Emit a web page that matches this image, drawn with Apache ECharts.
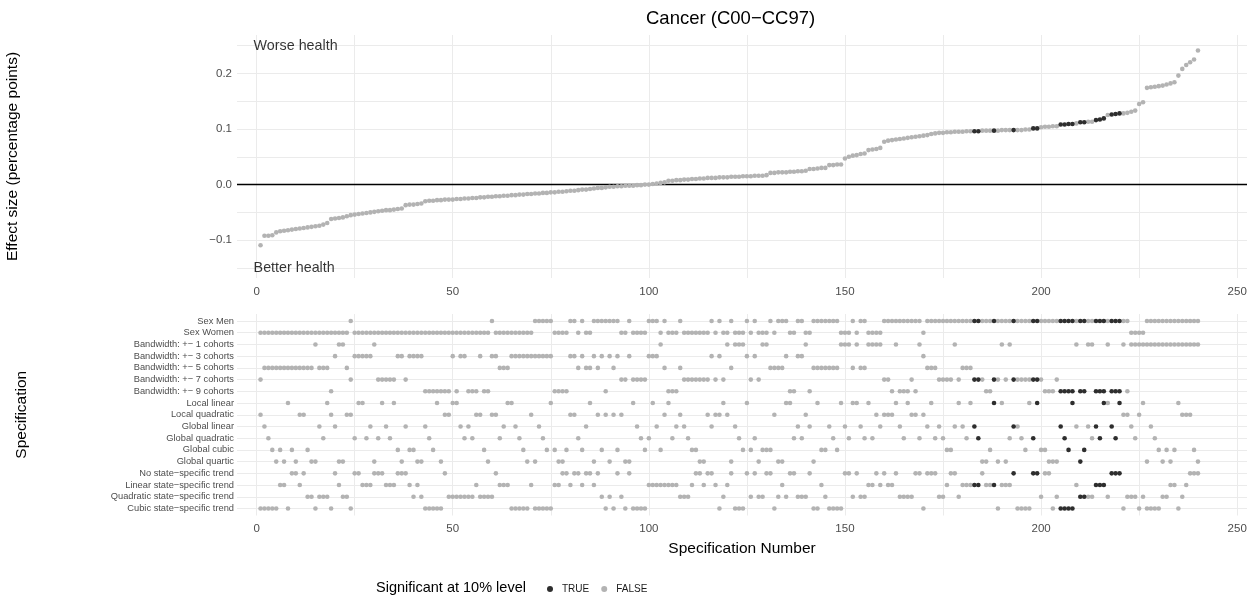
<!DOCTYPE html>
<html>
<head>
<meta charset="utf-8">
<script src="https://cdn.jsdelivr.net/npm/echarts@6/dist/echarts.min.js"></script>
<style>
  html, body { margin: 0; padding: 0; background: #ffffff; }
  #chart { width: 1256px; height: 598px; }
</style>
</head>
<body>
<div id="chart"></div>
<script>
// Specification curve: sorted effect sizes (top) and the choices behind each specification (bottom)

const rowLabels = [
  'Sex Men', 'Sex Women',
  'Bandwidth: +\u2212 1 cohorts', 'Bandwidth: +\u2212 3 cohorts', 'Bandwidth: +\u2212 5 cohorts',
  'Bandwidth: +\u2212 7 cohorts', 'Bandwidth: +\u2212 9 cohorts',
  'Local linear', 'Local quadratic', 'Global linear', 'Global quadratic', 'Global cubic', 'Global quartic',
  'No state\u2212specific trend', 'Linear state\u2212specific trend',
  'Quadratic state\u2212specific trend', 'Cubic state\u2212specific trend'
];

const xTickLabels = [0, 50, 100, 150, 200, 250];
const xGridValues = [0, 25, 50, 75, 100, 125, 150, 175, 200, 225, 250];
const effectTickLabels = [-0.1, 0, 0.1, 0.2];
const effectGridValues = [-0.15, -0.1, -0.05, 0.05, 0.1, 0.15, 0.2, 0.25];

// Effect size (percentage points) of specifications 1..240, sorted ascending
const effectSize = [
  -0.109, -0.092, -0.092, -0.091, -0.086, -0.084, -0.083, -0.082, -0.081, -0.080,
  -0.079, -0.078, -0.077, -0.076, -0.075, -0.074, -0.072, -0.069, -0.062, -0.061,
  -0.060, -0.059, -0.057, -0.055, -0.054, -0.053, -0.052, -0.051, -0.050, -0.049,
  -0.048, -0.047, -0.046, -0.046, -0.045, -0.044, -0.043, -0.037, -0.036, -0.036,
  -0.035, -0.034, -0.030, -0.029, -0.029, -0.028, -0.028, -0.027, -0.027, -0.027,
  -0.026, -0.026, -0.025, -0.025, -0.024, -0.024, -0.023, -0.023, -0.022, -0.022,
  -0.021, -0.021, -0.020, -0.020, -0.019, -0.019, -0.018, -0.018, -0.017, -0.017,
  -0.016, -0.016, -0.015, -0.015, -0.014, -0.014, -0.013, -0.013, -0.012, -0.011,
  -0.011, -0.010, -0.009, -0.009, -0.008, -0.007, -0.006, -0.006, -0.005, -0.004,
  -0.004, -0.003, -0.003, -0.002, -0.002, -0.002, -0.001, -0.001, 0.000, 0.000,
  0.001, 0.002, 0.003, 0.004, 0.007, 0.007, 0.008, 0.008, 0.009, 0.009,
  0.010, 0.010, 0.011, 0.011, 0.012, 0.012, 0.012, 0.013, 0.013, 0.013,
  0.014, 0.014, 0.014, 0.015, 0.015, 0.015, 0.016, 0.016, 0.016, 0.017,
  0.021, 0.021, 0.022, 0.022, 0.022, 0.023, 0.023, 0.024, 0.024, 0.025,
  0.028, 0.028, 0.029, 0.030, 0.030, 0.035, 0.035, 0.036, 0.036, 0.047,
  0.050, 0.052, 0.053, 0.055, 0.056, 0.062, 0.063, 0.064, 0.066, 0.077,
  0.079, 0.080, 0.081, 0.082, 0.083, 0.084, 0.085, 0.086, 0.087, 0.088,
  0.089, 0.091, 0.092, 0.093, 0.093, 0.094, 0.094, 0.095, 0.095, 0.095,
  0.096, 0.096, 0.096, 0.096, 0.097, 0.097, 0.097, 0.097, 0.097, 0.098,
  0.098, 0.098, 0.098, 0.098, 0.098, 0.099, 0.099, 0.101, 0.101, 0.103,
  0.104, 0.104, 0.105, 0.105, 0.108, 0.108, 0.109, 0.109, 0.110, 0.112,
  0.112, 0.113, 0.113, 0.116, 0.117, 0.119, 0.125, 0.126, 0.127, 0.128,
  0.128, 0.129, 0.131, 0.133, 0.145, 0.148, 0.174, 0.175, 0.176, 0.177,
  0.178, 0.180, 0.182, 0.184, 0.196, 0.208, 0.215, 0.220, 0.225, 0.241
];

// Sample: M = men, W = women
const sexBySpec = [
  'W W W W W W W W W W', 'W W W W W W W W W W', 'W W W M W W W W W W', 'W W W W W W W W W W',
  'W W W W W W W W W W', 'W W W W W W W W W M', 'W W W W W W W W W W', 'M M M M M W W W W M',
  'M W M W W M M M M M', 'M M W W M W W W W M', 'M M W M W W W M W W', 'W W W W W M W M W W',
  'M W W W M W M W W W', 'M W M M M W W M M W', 'W M M M M M M M W W', 'W M W M M W W W W M',
  'M M M M M M M M M W', 'M M M M M M M M M M', 'M M M M M M M M M M', 'M M M M M M M M M M',
  'M M M M M M M M M M', 'M M M M M M M M M M', 'M M W W W W M M M M', 'M M M M M M M M M M'
].join(' ').split(' ');

// Bandwidth in cohorts (+/-)
const bandwidthBySpec = [
  7, 5, 5, 5, 5, 5, 5, 5, 5, 5,   5, 5, 5, 5, 1, 5, 5, 5, 9, 3,
  1, 1, 5, 7, 3, 3, 3, 3, 3, 1,   7, 7, 7, 7, 7, 3, 3, 7, 3, 3,
  3, 3, 9, 9, 9, 9, 9, 9, 9, 3,   9, 3, 3, 9, 9, 9, 3, 9, 9, 3,
  3, 5, 5, 5, 3, 3, 3, 3, 3, 3,   3, 3, 3, 3, 3, 9, 9, 9, 9, 3,
  3, 5, 3, 5, 5, 3, 5, 3, 9, 3,   5, 3, 7, 7, 3, 7, 7, 7, 7, 3,
  3, 3, 1, 5, 9, 9, 9, 5, 7, 7,   7, 7, 7, 7, 7, 3, 7, 3, 7, 1,
  5, 1, 1, 1, 3, 7, 3, 7, 1, 1,   5, 5, 5, 5, 3, 9, 9, 3, 3, 1,
  9, 5, 5, 5, 5, 5, 5, 5, 1, 1,   1, 5, 1, 5, 5, 1, 1, 1, 1, 7,
  7, 9, 1, 9, 9, 9, 7, 9, 1, 3,   5, 5, 5, 7, 7, 7, 7, 1, 7, 5,
  5, 5, 7, 7, 7, 9, 9, 7, 7, 1,   7, 1, 7, 7, 7, 7, 7, 7, 7, 7,
  9, 9, 9, 7, 9, 9, 9, 9, 1, 9,   9, 1, 1, 9, 9, 9, 1, 9, 9, 9,
  1, 9, 1, 1, 1, 1, 1, 1, 1, 1,   1, 1, 1, 1, 1, 1, 1, 1, 1, 1
];

// Estimator: LL local linear, LQ local quadratic, GL/GQ/GC/G4 global linear..quartic
const methodBySpec = [
  'LQ GL GQ GC G4 GC G4 LL GC G4', 'LQ LQ GC G4 G4 GL GQ LL LQ GL',
  'G4 G4 LQ LQ GQ LL LL GQ GL G4', 'GQ LL GL GQ LL GC G4 GL GC GC',
  'G4 G4 GL GQ GC LL G4 LQ LQ LL', 'LL GL GQ GL GQ LQ LQ GC G4 LQ',
  'LQ GQ GL LL LL GL GQ GC G4 LQ', 'G4 GL GQ GC LL GC G4 G4 GC LQ',
  'LQ GQ GC GL LL G4 LQ GC LQ G4', 'LQ GC LQ G4 G4 LL GL GQ GC GQ',
  'LL GL GC LQ LL GQ GL LQ GL GQ', 'GC GC G4 G4 LQ GL LQ LQ LL LQ',
  'G4 GL GQ GC LL GC GQ G4 GC GC', 'GC LQ G4 G4 LL LL GQ GL GQ LQ',
  'GL G4 LL GC GC GL GQ GC LL GL', 'GQ LL LL GL GQ LL GQ LQ GL LQ',
  'LQ LQ LL GL GQ LL LQ LQ GQ LQ', 'GL LL GQ GL GQ GC GC GL LL GL',
  'GQ LL GL GQ G4 G4 GC LL G4 LL', 'G4 GQ GL GL GQ GC LL GQ LL GC',
  'GC G4 G4 G4 GL GQ GC LL GL G4', 'GC GL GQ GL GQ LL LL GL GQ LL',
  'LQ LQ GL GQ LQ LL G4 GL GQ GC', 'G4 GC G4 GC LL LQ LQ LQ GC G4'
].join(' ').split(' ');

// State-specific trend: N none, L linear, Q quadratic, C cubic
const trendBySpec = [
  'C C C C C L L C N N', 'L N Q Q C Q Q Q C N', 'L Q Q C N N L L L N', 'N N L L L N N N L Q',
  'L Q C C C C C N Q Q', 'Q Q Q Q Q L Q Q Q Q', 'N L L L C C C C C L', 'C C C C C L L N N L',
  'N N L N N L N Q C Q', 'C N Q C N C C C C L', 'L L L L L L L Q Q Q', 'L N N L N N L C Q L',
  'N C C C N Q N Q Q N', 'N C Q L Q N N Q Q Q', 'N C C L Q C C C C N', 'N Q N Q Q L L N L N',
  'L L N Q Q Q Q N N C', 'N N N Q Q L N N Q L', 'L L L L N L L L C L', 'L L N C C C C N N Q',
  'N N C Q C C C C L Q', 'Q Q Q L L L Q N N N', 'C Q Q Q C Q C C C C', 'Q Q L L C Q L N N N'
].join(' ').split(' ');

// Specifications significant at the 10% level
const significantSpecs = [183, 184, 188, 193, 198, 199, 205, 206, 207, 208, 210, 211, 214, 215, 216, 218, 219, 220];

const sexRow = { M: 1, W: 2 };
const bandwidthRow = { 1: 3, 3: 4, 5: 5, 7: 6, 9: 7 };
const methodRow = { LL: 8, LQ: 9, GL: 10, GQ: 11, GC: 12, G4: 13 };
const trendRow = { N: 14, L: 15, Q: 16, C: 17 };

const COLOR_TRUE = '#2E2E2E';
const COLOR_FALSE = '#B3B3B3';
const FONT = '"Liberation Sans", Arial, sans-serif';
const minus = s => String(s).replace('-', '\u2212');

const curveTrue = [], curveFalse = [], choiceTrue = [], choiceFalse = [];
effectSize.forEach((v, i) => {
  const spec = i + 1;
  const sig = significantSpecs.includes(spec);
  (sig ? curveTrue : curveFalse).push([spec, v]);
  const rows = [sexRow[sexBySpec[i]], bandwidthRow[bandwidthBySpec[i]], methodRow[methodBySpec[i]], trendRow[trendBySpec[i]]];
  rows.forEach(r => (sig ? choiceTrue : choiceFalse).push([spec, r]));
});

// Panel grid lines, kept underneath the points
function gridLines(axisIdx, xs, ys, extra) {
  const data = xs.map(v => ({ xAxis: v })).concat(ys.map(v => ({ yAxis: v })));
  return {
    type: 'scatter', xAxisIndex: axisIdx, yAxisIndex: axisIdx, data: [], silent: true, z: 1,
    markLine: {
      z: 1, silent: true, animation: false, symbol: ['none', 'none'], label: { show: false },
      lineStyle: { color: '#EBEBEB', width: 1, type: 'solid' },
      emphasis: { disabled: true },
      data: data.concat(extra || [])
    }
  };
}

const axisText = { color: '#4D4D4D', fontSize: 11.5, fontFamily: FONT };
const nameText = { color: '#000000', fontSize: 15.5, fontFamily: FONT };

const option = {
  animation: false,
  title: [
    { text: 'Cancer (C00\u2212CC97)', left: 641, top: 4,
      textStyle: { fontSize: 18.5, fontWeight: 'normal', color: '#000', fontFamily: FONT } },
    { text: 'Significant at 10% level', left: 371, top: 575,
      textStyle: { fontSize: 14.5, fontWeight: 'normal', color: '#000', fontFamily: FONT } }
  ],
  legend: {
    data: ['TRUE', 'FALSE'], left: 542, top: 579, icon: 'circle', itemWidth: 14, itemHeight: 6,
    itemGap: 12, selectedMode: false,
    textStyle: { fontSize: 10, color: '#1A1A1A', fontFamily: FONT }
  },
  grid: [
    { left: 237, right: 9, top: 35, height: 243, outerBoundsMode: 'none', containLabel: false },
    { left: 237, right: 9, top: 314, height: 201.5, outerBoundsMode: 'none', containLabel: false }
  ],
  xAxis: [
    { type: 'value', gridIndex: 0, min: -5, max: 252.5,
      axisLine: { show: false }, axisTick: { show: false }, splitLine: { show: false },
      axisLabel: Object.assign({ customValues: xTickLabels, margin: 8 }, axisText) },
    { type: 'value', gridIndex: 1, min: -5, max: 252.5,
      name: 'Specification Number', nameLocation: 'middle', nameGap: 25, nameTextStyle: nameText,
      axisLine: { show: false }, axisTick: { show: false }, splitLine: { show: false },
      axisLabel: Object.assign({ customValues: xTickLabels, margin: 7 }, axisText) }
  ],
  yAxis: [
    { type: 'value', gridIndex: 0, min: -0.168, max: 0.269,
      name: 'Effect size (percentage points)', nameLocation: 'middle', nameGap: 216, nameTextStyle: nameText,
      axisLine: { show: false }, axisTick: { show: false }, splitLine: { show: false },
      axisLabel: Object.assign({ customValues: effectTickLabels, margin: 5,
        formatter: v => minus(Number(v).toFixed(1)) }, axisText) },
    { type: 'value', gridIndex: 1, min: 0.4, max: 17.6, inverse: true,
      name: 'Specification', nameLocation: 'middle', nameGap: 207, nameTextStyle: nameText,
      axisLine: { show: false }, axisTick: { show: false }, splitLine: { show: false },
      axisLabel: Object.assign({ customValues: rowLabels.map((_, i) => i + 1), margin: 3,
        formatter: v => rowLabels[Math.round(v) - 1] || '' }, axisText, { fontSize: 9.3 }) }
  ],
  series: [
    gridLines(0, xGridValues, effectGridValues,
      [{ yAxis: 0, lineStyle: { color: '#000000', width: 1.3, type: 'solid' } }]),
    gridLines(1, xGridValues, rowLabels.map((_, i) => i + 1)),
    { name: 'FALSE', type: 'scatter', xAxisIndex: 0, yAxisIndex: 0, data: curveFalse, z: 3,
      symbolSize: 4.6, itemStyle: { color: COLOR_FALSE, opacity: 1 }, silent: true },
    { name: 'TRUE', type: 'scatter', xAxisIndex: 0, yAxisIndex: 0, data: curveTrue, z: 4,
      symbolSize: 4.6, itemStyle: { color: COLOR_TRUE, opacity: 1 }, silent: true },
    { name: 'FALSE', type: 'scatter', xAxisIndex: 1, yAxisIndex: 1, data: choiceFalse, z: 3,
      symbolSize: 4.6, itemStyle: { color: COLOR_FALSE, opacity: 1 }, silent: true },
    { name: 'TRUE', type: 'scatter', xAxisIndex: 1, yAxisIndex: 1, data: choiceTrue, z: 4,
      symbolSize: 4.6, itemStyle: { color: COLOR_TRUE, opacity: 1 }, silent: true },
    { name: 'annotations', type: 'scatter', xAxisIndex: 0, yAxisIndex: 0, symbolSize: 0, silent: true, z: 5,
      data: [[0, 0.25, 'Worse health'], [0, -0.15, 'Better health']],
      label: { show: true, position: 'right', distance: -3, formatter: p => p.data[2],
        color: '#000', fontSize: 14.3, fontFamily: FONT } }
  ]
};

const chart = echarts.init(document.getElementById('chart'), null, { renderer: 'canvas' });
chart.setOption(option);
</script>
</body>
</html>
